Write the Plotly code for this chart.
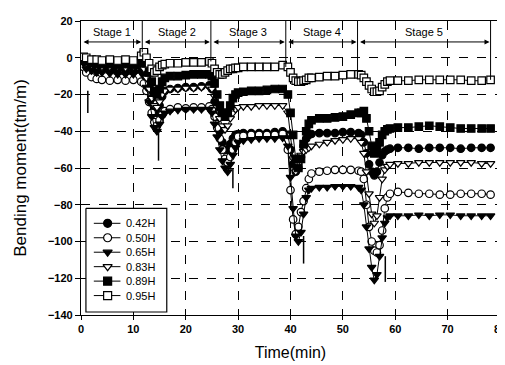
import plotly.graph_objects as go

# ---------------- data ----------------
time_min = [0, 0.5, 1, 2, 3, 4, 5.5, 7, 8.5, 10, 11.5,
            12, 12.5, 13, 13.5, 14, 14.5, 15, 15.5, 16, 17, 18.5, 20, 21.5, 23, 24.5,
            25, 25.5, 26, 26.5, 27, 27.5, 28, 28.5, 29, 29.5, 30, 31, 32.5, 34, 35.5, 37, 38.5,
            39.5, 40, 40.5, 41, 41.5, 42, 42.5, 43, 43.5, 44, 45.5, 47, 48.5, 50, 51.5, 53,
            53.5, 54, 54.5, 55, 55.5, 56, 56.5, 57, 57.5, 58, 58.5, 59,
            60.5, 62.5, 64.5, 66.5, 68.5, 70.5, 72.5, 74.5, 76.5, 78.2]

m_042H = [0, -2, -4, -5, -6, -6, -6.5, -6.5, -7, -7, -5,
          -2, -8, -15, -22, -28, -30, -26, -21, -18, -17, -16.5, -16, -16, -15.5, -15,
          -17, -24, -32, -40, -46, -50, -50, -47, -44, -42, -41.5, -41, -41, -41, -41, -40.5, -40,
          -42, -50, -58, -62, -60, -54, -48, -44, -42, -41.5, -41, -41, -41, -40.5, -40.5, -41,
          -42, -46, -52, -58, -62, -64, -62, -57, -53, -51, -50, -49.5,
          -49, -49, -49.5, -49, -49, -49, -49.5, -49, -49, -49]

m_050H = [0, -5, -8, -10.5, -11.5, -12, -12.5, -12, -12.5, -12, -13,
          -14, -18, -24, -30, -35, -37, -34, -31, -29, -28, -27, -27.5, -27, -27, -26.5,
          -28, -32, -38, -44, -50, -55, -57, -54, -50, -46, -43, -42.5, -42, -42, -42, -42, -41.5,
          -50, -72, -88, -96, -92, -84, -78, -71, -66, -63, -62, -61.5, -61, -61, -61, -61.5,
          -62, -66, -80, -92, -100, -105, -106, -102, -94, -82, -76, -74,
          -73, -73.5, -74, -74, -74.5, -74.5, -74, -74, -74, -74.5]

m_065H = [0, -3, -6, -7, -8, -8, -8.5, -9, -9, -9, -8,
          -10, -16, -24, -32, -38, -40, -36, -32, -30, -29, -28.5, -28, -28, -28, -28,
          -30, -36, -43, -50, -56, -60, -62, -58, -53, -49, -46, -45, -44.5, -44, -44, -44, -43.5,
          -48, -65, -82, -97, -100, -95, -85, -76, -72, -71, -70.5, -70.5, -70, -70, -70, -70.5,
          -72, -80, -92, -104, -114, -121, -118, -108, -98, -90, -87, -86,
          -86, -86, -85.5, -86, -85.5, -85.5, -86, -86, -86, -86]

m_083H = [0, -2, -3, -4, -4.5, -5, -5, -5, -5.5, -5, -4,
          -6, -11, -17, -22, -26, -27, -24, -20, -18, -17, -17, -16.5, -16.5, -16, -16,
          -17, -21, -27, -33, -37, -39, -37, -33, -30, -28, -27, -26.5, -26.5, -26, -26, -26, -26,
          -30, -42, -55, -62, -58, -53, -51, -50, -49, -48, -47, -46, -45, -44.5, -44, -44,
          -46, -52, -62, -74, -85, -90, -86, -76, -66, -61, -59, -58,
          -57.5, -57.5, -57, -57, -57, -57, -57, -57, -57.5, -57.5]

m_089H = [0, -1, -2, -3, -3.5, -3.5, -3.5, -4, -3.5, -4, -3,
          2, -3, -8, -13, -18, -20, -17, -13, -11, -10, -10, -9.5, -9, -9, -9,
          -10, -14, -20, -26, -30, -32, -30, -26, -22, -20, -19, -18.5, -18, -18, -17.5, -17, -17,
          -20, -30, -42, -55, -60, -55, -47, -40, -36, -34, -33, -33, -32.5, -32, -31, -30,
          -30, -29, -33, -40, -48, -52, -50, -46, -42, -40, -39, -38.5,
          -38, -38, -37.5, -37, -37.5, -38, -38.5, -38.5, -38.5, -38.5]

m_095H = [0, 0.5, 0, -1, -1, -1.5, -1, -1.5, -1, -1.5, 1,
          3, 0, -3, -6, -8, -7, -5, -4, -3.5, -3, -3, -2.5, -2.5, -2.5, -2,
          -3, -6, -8, -9, -9, -8, -7, -6, -6, -5.5, -5.5, -5, -5, -5, -5, -5, -4,
          -5, -8, -11, -12.5, -13, -13, -12.5, -12, -11, -11, -10.5, -10, -10, -9.5, -9, -9,
          -9.5, -11, -13, -15, -17, -18.5, -18.5, -18, -16, -14.5, -13, -12.5,
          -12.5, -12.5, -12, -12, -12, -12, -12, -12.5, -12.5, -12]

series_names = ["0.42H", "0.50H", "0.65H", "0.83H", "0.89H", "0.95H"]
series_values = [m_042H, m_050H, m_065H, m_083H, m_089H, m_095H]
series_symbols = ["circle", "circle-open", "triangle-down", "triangle-down-open", "square", "square-open"]

stage_labels = ["Stage 1", "Stage 2", "Stage 3", "Stage 4", "Stage 5"]
stage_bounds = [0, 11.7, 24.8, 39.1, 52.8, 78.2]
stage_line_bottom = [None, 3, -2, -5, -9, -12]

peak_t = [1.3, 14.8, 29, 42.5, 58.1]
peak_top = [-18, -41, -60, -97, -108]
peak_bottom = [-30, -56, -71, -112, -122]

x_ticks = [0, 10, 20, 30, 40, 50, 60, 70, 80]
y_ticks = [20, 0, -20, -40, -60, -80, -100, -120, -140]

# legend key layout (pixel space of the plot area)
legend_box = [78, 160, 200, 304]          # x0, x1, y0, y1
legend_rows = [215, 229.5, 244, 258.5, 273, 287.5]
legend_line = [86, 113]
legend_mark_x = 100
legend_text_x = 117

# ---------------- figure ----------------
fig = go.Figure()


def marker_style(sym, size=7.5):
    is_open = sym.endswith("-open")
    return dict(symbol=sym.replace("-open", ""), size=size,
                color="white" if is_open else "black",
                line=dict(color="black", width=1.2))


for name, vals, sym in zip(series_names, series_values, series_symbols):
    fig.add_trace(go.Scatter(
        x=time_min, y=vals, name=name, mode="lines+markers",
        line=dict(color="black", width=1), marker=marker_style(sym),
        showlegend=False,
    ))

# peak indicator lines
px, py = [], []
for t, a, b in zip(peak_t, peak_top, peak_bottom):
    px += [t, t, None]
    py += [a, b, None]
fig.add_trace(go.Scatter(x=px, y=py, mode="lines", line=dict(color="black", width=1.5),
                         showlegend=False, hoverinfo="skip"))

shapes = []
annotations = []
for i, b in enumerate(stage_bounds):
    if i == 0:
        continue
    shapes.append(dict(type="line", xref="x", yref="y", x0=b, x1=b, y0=20,
                       y1=stage_line_bottom[i], line=dict(color="black", width=1)))
for i, lab in enumerate(stage_labels):
    x0, x1 = stage_bounds[i], stage_bounds[i + 1]
    annotations.append(dict(x=(x0 + x1) / 2, y=14, xref="x", yref="y", text=lab,
                            showarrow=False, font=dict(size=11, color="black")))
    annotations.append(dict(x=x1 - 0.2, y=8.6, ax=x0 + 0.2, ay=8.6, xref="x", yref="y",
                            axref="x", ayref="y", text="", showarrow=True,
                            arrowhead=2, arrowside="end+start", arrowsize=1,
                            arrowwidth=1, arrowcolor="black"))

# hand-built legend (compact row spacing, as in the original): white box first
bx0, bx1, by0, by1 = legend_box
fig.add_trace(go.Scatter(x=[bx0, bx1, bx1, bx0, bx0], y=[by0, by0, by1, by1, by0],
                         xaxis="x2", yaxis="y2", mode="lines", fill="toself",
                         fillcolor="white", line=dict(color="black", width=1.2),
                         showlegend=False, hoverinfo="skip"))
for name, sym, ry in zip(series_names, series_symbols, legend_rows):
    fig.add_trace(go.Scatter(x=legend_line, y=[ry, ry], xaxis="x2", yaxis="y2",
                             mode="lines", line=dict(color="black", width=1),
                             showlegend=False, hoverinfo="skip"))
    fig.add_trace(go.Scatter(x=[legend_mark_x], y=[ry], xaxis="x2", yaxis="y2",
                             mode="markers", marker=marker_style(sym, 8),
                             showlegend=False, hoverinfo="skip"))
    annotations.append(dict(x=legend_text_x, y=ry, xref="x2", yref="y2", text=name,
                            showarrow=False, xanchor="left", yanchor="middle",
                            font=dict(size=11, color="black")))

fig.update_layout(
    width=505, height=365,
    margin=dict(l=73, r=7, t=12, b=58),
    paper_bgcolor="white", plot_bgcolor="white",
    font=dict(family="Liberation Sans, Arial, sans-serif", color="black"),
    shapes=shapes, annotations=annotations,
    showlegend=False,
    xaxis=dict(range=[0, 80], tickvals=x_ticks, showgrid=True, gridcolor="black",
               griddash="dash", gridwidth=0.8, zeroline=False, showline=True,
               linecolor="black", linewidth=1.2, mirror=True, ticks="outside",
               ticklen=4, tickcolor="black", tickfont=dict(size=11, weight="bold"),
               ticklabeloverflow="allow",
               title=dict(text="Time(min)", font=dict(size=16), standoff=12)),
    yaxis=dict(range=[-140, 20], tickvals=y_ticks, showgrid=True, gridcolor="black",
               griddash="dash", gridwidth=0.8, zeroline=False, showline=True,
               linecolor="black", linewidth=1.2, mirror=True, ticks="outside",
               ticklen=5, tickcolor="black", tickfont=dict(size=11, weight="bold"),
               title=dict(text="Bending moment(tm/m)", font=dict(size=17), standoff=16)),
    xaxis2=dict(overlaying="x", range=[73, 498], visible=False, fixedrange=True),
    yaxis2=dict(overlaying="y", range=[307, 12], visible=False, fixedrange=True),
)

fig.write_html("out.html")
